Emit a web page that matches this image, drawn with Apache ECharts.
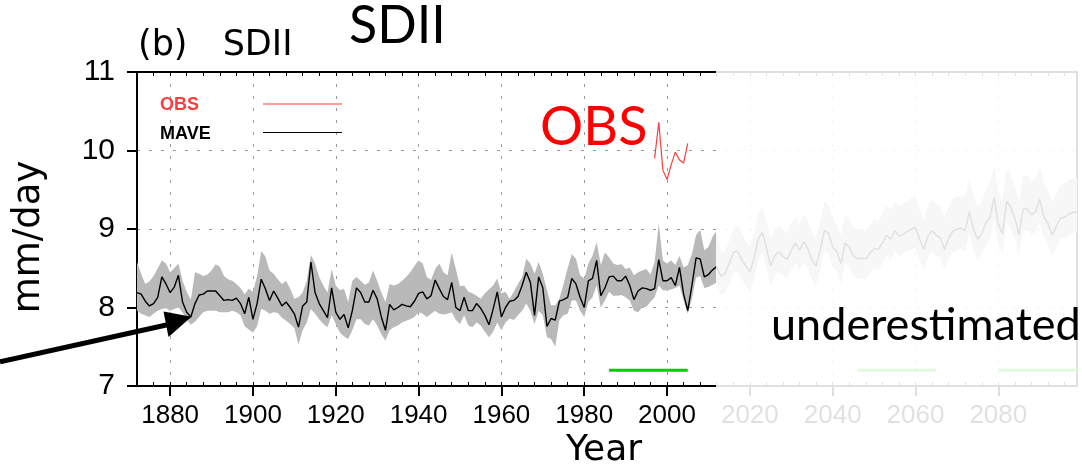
<!DOCTYPE html>
<html><head><meta charset="utf-8">
<script src="https://cdn.jsdelivr.net/npm/echarts@6/dist/echarts.min.js"></script>
<style>html,body{margin:0;padding:0;background:#fff}#c{width:1082px;height:469px}</style>
</head><body><div id="c"></div>
<script>
// ---------- data ----------
const FIRST_YEAR = 1872, LAST_YEAR = 2099;
const years = [];
for (let y = FIRST_YEAR; y <= LAST_YEAR; y++) years.push(String(y));
const xTickLabels = ['1880','1900','1920','1940','1960','1980','2000','2020','2040','2060','2080'];

// multi-model average (MAVE) 1872-2012
const maveHist = [
8.19,8.17,8.08,8.02,8.05,8.13,8.39,8.30,8.19,8.26,
8.41,8.07,7.94,7.88,8.05,8.16,8.17,8.21,8.21,8.21,
8.15,8.09,8.10,8.09,8.12,8.05,7.92,8.13,7.85,8.05,
8.36,8.24,8.09,8.21,8.12,8.02,8.07,8.00,7.92,7.75,
8.02,8.07,8.58,8.19,8.05,7.96,7.87,8.25,7.94,7.85,
7.91,7.74,7.96,8.25,8.19,8.07,8.07,8.22,8.11,7.88,
7.71,8.04,7.97,8.00,8.04,8.02,8.01,8.08,8.18,8.20,
8.11,8.15,8.35,8.24,8.14,8.10,8.32,8.00,7.96,8.13,
7.96,7.96,8.05,7.99,7.90,7.78,7.98,8.20,7.88,8.00,
8.08,8.09,8.14,8.28,8.45,8.32,7.90,8.39,8.25,7.76,
7.86,7.84,8.08,8.10,8.13,8.37,8.30,8.13,8.00,8.34,
8.37,8.60,8.15,8.25,8.39,8.40,8.34,8.34,8.40,8.28,
8.10,8.21,8.25,8.24,8.22,8.24,8.61,8.34,8.34,8.38,
8.28,8.51,8.17,7.96,8.28,8.63,8.62,8.39,8.42,8.48,
8.52];
const upperHist = [
8.58,8.43,8.30,8.33,8.40,8.50,8.60,8.56,8.45,8.50,
8.56,8.34,8.20,8.10,8.45,8.43,8.40,8.42,8.47,8.55,
8.52,8.40,8.36,8.34,8.30,8.25,8.17,8.24,8.20,8.40,
8.72,8.65,8.47,8.43,8.36,8.30,8.34,8.24,8.11,8.13,
8.19,8.34,8.67,8.56,8.39,8.28,8.19,8.49,8.28,8.22,
8.24,8.07,8.34,8.39,8.34,8.29,8.32,8.47,8.34,8.19,
8.07,8.30,8.28,8.30,8.34,8.39,8.45,8.53,8.60,8.56,
8.39,8.35,8.49,8.56,8.45,8.41,8.70,8.49,8.27,8.28,
8.20,8.18,8.15,8.11,8.18,8.23,8.28,8.37,8.18,8.20,
8.11,8.20,8.30,8.39,8.62,8.56,8.43,8.58,8.43,8.22,
8.03,8.03,8.11,8.30,8.50,8.68,8.62,8.41,8.37,8.56,
8.66,8.83,8.54,8.70,8.64,8.56,8.54,8.55,8.49,8.51,
8.41,8.45,8.47,8.49,8.42,8.58,9.07,8.60,8.56,8.60,
8.54,8.66,8.51,8.54,8.68,8.92,8.99,8.73,8.77,8.90,
8.98];
const lowerHist = [
7.96,7.92,7.90,7.88,7.92,7.96,7.98,7.99,7.96,7.98,
8.00,7.94,7.85,7.78,7.82,7.88,7.94,7.96,7.96,7.96,
7.94,7.94,7.94,7.96,7.94,7.90,7.76,7.72,7.68,7.76,
7.98,7.96,7.92,7.94,7.93,7.87,7.83,7.79,7.74,7.53,
7.71,7.81,7.98,7.92,7.85,7.79,7.75,7.90,7.79,7.68,
7.63,7.60,7.71,7.85,7.85,7.79,7.77,7.85,7.77,7.66,
7.58,7.71,7.75,7.77,7.81,7.83,7.85,7.88,7.94,7.92,
7.88,7.92,7.96,7.92,7.91,7.92,7.94,7.84,7.79,7.90,
7.77,7.75,7.81,7.77,7.69,7.62,7.69,7.81,7.71,7.81,
7.86,7.84,7.90,7.96,8.05,7.96,7.79,7.96,7.90,7.62,
7.60,7.50,7.84,7.90,7.92,8.09,8.09,7.96,7.88,8.07,
8.13,8.28,8.00,8.09,8.20,8.15,8.15,8.16,8.13,8.09,
7.96,7.94,8.00,8.01,8.07,8.13,8.28,8.22,8.22,8.23,
8.25,8.28,8.09,7.92,8.11,8.38,8.40,8.25,8.26,8.29,
8.32];
// projection 2013-2099 (faded part)
const maveFut = [
8.40,8.43,8.56,8.70,8.72,8.61,8.53,8.45,8.62,8.87,
8.96,8.76,8.53,8.66,8.71,8.65,8.61,8.73,8.82,8.73,
8.84,8.75,8.60,8.53,8.73,8.98,8.95,8.77,8.71,8.56,
8.82,8.77,8.66,8.62,8.63,8.62,8.69,8.75,8.74,8.82,
8.92,8.87,8.98,8.91,8.93,8.97,9.00,9.02,8.87,8.74,
8.91,8.98,8.92,8.89,8.74,8.88,8.97,9.00,9.01,8.98,
9.22,9.00,8.87,8.94,9.08,9.15,9.40,9.06,8.94,9.35,
9.28,9.13,8.93,9.25,9.26,9.18,9.22,9.38,9.15,9.07,
8.92,9.03,9.14,9.15,9.19,9.21,9.22];
const upperFut = [
8.70,8.72,8.85,9.00,9.05,8.95,8.85,8.78,8.95,9.20,
9.28,9.10,8.88,8.98,9.05,8.98,8.95,9.08,9.15,9.05,
9.18,9.10,8.95,8.90,9.10,9.35,9.30,9.12,9.05,8.92,
9.18,9.12,9.02,8.98,9.00,8.98,9.05,9.12,9.10,9.20,
9.30,9.25,9.35,9.28,9.32,9.35,9.40,9.42,9.25,9.12,
9.30,9.38,9.32,9.28,9.15,9.28,9.38,9.42,9.42,9.40,
9.65,9.42,9.28,9.35,9.50,9.58,9.80,9.48,9.35,9.75,
9.70,9.55,9.35,9.68,9.68,9.60,9.65,9.80,9.58,9.50,
9.35,9.45,9.56,9.58,9.62,9.64,9.65];
const lowerFut = [
8.15,8.18,8.30,8.44,8.46,8.36,8.28,8.20,8.36,8.60,
8.70,8.50,8.28,8.40,8.45,8.40,8.36,8.48,8.56,8.48,
8.58,8.50,8.35,8.28,8.48,8.72,8.70,8.52,8.46,8.30,
8.56,8.52,8.40,8.36,8.38,8.36,8.44,8.50,8.48,8.56,
8.66,8.60,8.72,8.65,8.68,8.72,8.74,8.76,8.60,8.48,
8.65,8.72,8.66,8.62,8.48,8.62,8.70,8.74,8.75,8.72,
8.95,8.74,8.60,8.68,8.80,8.88,9.12,8.80,8.68,9.08,
9.00,8.86,8.66,8.98,9.00,8.92,8.96,9.10,8.88,8.80,
8.66,8.76,8.88,8.88,8.92,8.95,8.96];
// observations
const obsYears  = [1997,1998,1999,2000,2001,2002,2003,2004,2005];
const obsValues = [9.90,10.36,9.75,9.63,9.82,9.98,9.88,9.84,10.09];
// reference periods (green bars)
const refPeriods = [[1986,2005],[2046,2065],[2080,2099]];
const refLevel = 7.2;

// ---------- build ----------
const mave = maveHist.concat(maveFut);
const upper = upperHist.concat(upperFut);
const lower = lowerHist.concat(lowerFut);
const bandWidth = upper.map((u, i) => +(u - lower[i]).toFixed(3));
const majorTick = (i, v) => xTickLabels.indexOf(v) >= 0;
const minorTick = (i, v) => (+v) % 4 === 0;
const GFONT = '"Liberation Sans", Arial, sans-serif';
const DFONT = '"DejaVu Sans", sans-serif';

const chart = echarts.init(document.getElementById('c'), null, {renderer: 'canvas'});
const series = [
  {type:'line', data: lower, stack:'band', symbol:'none', lineStyle:{opacity:0}, silent:true, z:1},
  {type:'line', data: bandWidth, stack:'band', symbol:'none', lineStyle:{opacity:0},
   areaStyle:{color:'#b9b9b9', opacity:1}, silent:true, z:1},
  {type:'line', name:'MAVE', data: mave, symbol:'none', lineStyle:{color:'#000', width:1.4}, z:3},
  {type:'line', name:'OBS', data: obsYears.map((y, i) => [String(y), obsValues[i]]), symbol:'none',
   lineStyle:{color:'#ff3b3b', width:1.2}, z:3}
];
refPeriods.forEach(p => series.push({type:'line', data:[[String(p[0]), refLevel],[String(p[1]), refLevel]],
  symbol:'none', lineStyle:{color:'#00d200', width:3}, z:3}));

const option = {
  animation: false,
  backgroundColor: '#fff',
  grid: {left:137, right:5, top:72, bottom:83, show:true, borderColor:'#000', borderWidth:2, backgroundColor:'transparent'},
  xAxis: [
    {type:'category', data: years, boundaryGap:false, position:'bottom',
     axisLine:{show:true, lineStyle:{color:'#000', width:2}},
     axisTick:{show:true, inside:false, length:10, interval: majorTick, lineStyle:{color:'#000', width:2}},
     axisLabel:{interval: majorTick, fontSize:26, color:'#000', margin:17, fontFamily: GFONT},
     splitLine:{show:true, interval: majorTick, lineStyle:{color:'#9a9a9a', width:1, type:[3,9]}}},
    {type:'category', data: years, boundaryGap:false, position:'bottom',
     axisLine:{show:false}, axisLabel:{show:false}, splitLine:{show:false},
     axisTick:{show:true, inside:true, length:4, interval: minorTick, lineStyle:{color:'#000', width:1}}},
    {type:'category', data: years, boundaryGap:false, position:'top',
     axisLine:{show:true, lineStyle:{color:'#000', width:2}}, axisLabel:{show:false}, splitLine:{show:false},
     axisTick:{show:true, inside:true, length:4, interval: minorTick, lineStyle:{color:'#000', width:1}}}
  ],
  yAxis: {type:'value', min:7, max:11, interval:1,
    axisLine:{show:true, lineStyle:{color:'#000', width:2}},
    axisTick:{show:true, inside:false, length:10, lineStyle:{color:'#000', width:2}},
    axisLabel:{fontSize:30, color:'#000', margin:22, fontFamily: GFONT},
    splitLine:{show:true, lineStyle:{color:'#9a9a9a', width:1, type:[3,9]}}},
  series: series,
  graphic: [
    // fade of the projection part
    {type:'rect', shape:{x:716, y:58, width:366, height:378}, style:{fill:'rgba(255,255,255,0.88)'}, z:100, silent:true},
    // legend
    {type:'text', x:160, y:105, style:{text:'OBS', fill:'#ff3b3b', font:'bold 18px ' + GFONT, verticalAlign:'middle', textVerticalAlign:'middle'}, z:110},
    {type:'line', shape:{x1:263, y1:104, x2:342, y2:104}, style:{stroke:'#ff3b3b', lineWidth:1.2}, z:110},
    {type:'text', x:160, y:134, style:{text:'MAVE', fill:'#000', font:'bold 18px ' + GFONT, verticalAlign:'middle', textVerticalAlign:'middle'}, z:110},
    {type:'line', shape:{x1:263, y1:132.5, x2:342, y2:132.5}, style:{stroke:'#000', lineWidth:1.2}, z:110},
    // titles
    {type:'text', x:138, y:46, style:{text:'{p|(b)} {s|SDII}', fill:'#000', font:'35px ' + DFONT, verticalAlign:'middle', textVerticalAlign:'middle',
      rich:{p:{fontSize:35, fontFamily:'DejaVu Sans', fill:'#000'}, s:{fontSize:35, fontFamily:'DejaVu Sans', fill:'#000', padding:[0,0,0,24]}}}, z:110},
    {type:'text', x:349, y:26, style:{text:'SDII', fill:'#000', font:'52px Lato, sans-serif', verticalAlign:'middle', textVerticalAlign:'middle'}, z:110},
    {type:'text', x:540, y:128, style:{text:'OBS', fill:'#ff0000', font:'54px Lato, sans-serif', verticalAlign:'middle', textVerticalAlign:'middle'}, z:110},
    {type:'text', x:771, y:325, style:{text:'underestimated', fill:'#000', font:'45px Lato, sans-serif', verticalAlign:'middle', textVerticalAlign:'middle'}, z:110},
    // axis names
    {type:'text', x:29, y:237, rotation:Math.PI/2, style:{text:'mm/day', fill:'#000', font:'37px ' + DFONT, align:'center', textAlign:'center', verticalAlign:'middle', textVerticalAlign:'middle'}, z:110},
    {type:'text', x:604, y:451, style:{text:'Year', fill:'#000', font:'36px ' + DFONT, align:'center', textAlign:'center', verticalAlign:'middle', textVerticalAlign:'middle'}, z:110},
    // arrow
    {type:'line', shape:{x1:0, y1:361.7, x2:172, y2:323.8}, style:{stroke:'#000', lineWidth:5}, z:110},
    {type:'polygon', shape:{points:[[163.5,311.5],[168.5,337],[191.5,316.7]]}, style:{fill:'#000'}, z:110}
  ]
};
chart.setOption(option);
</script>
</body></html>
